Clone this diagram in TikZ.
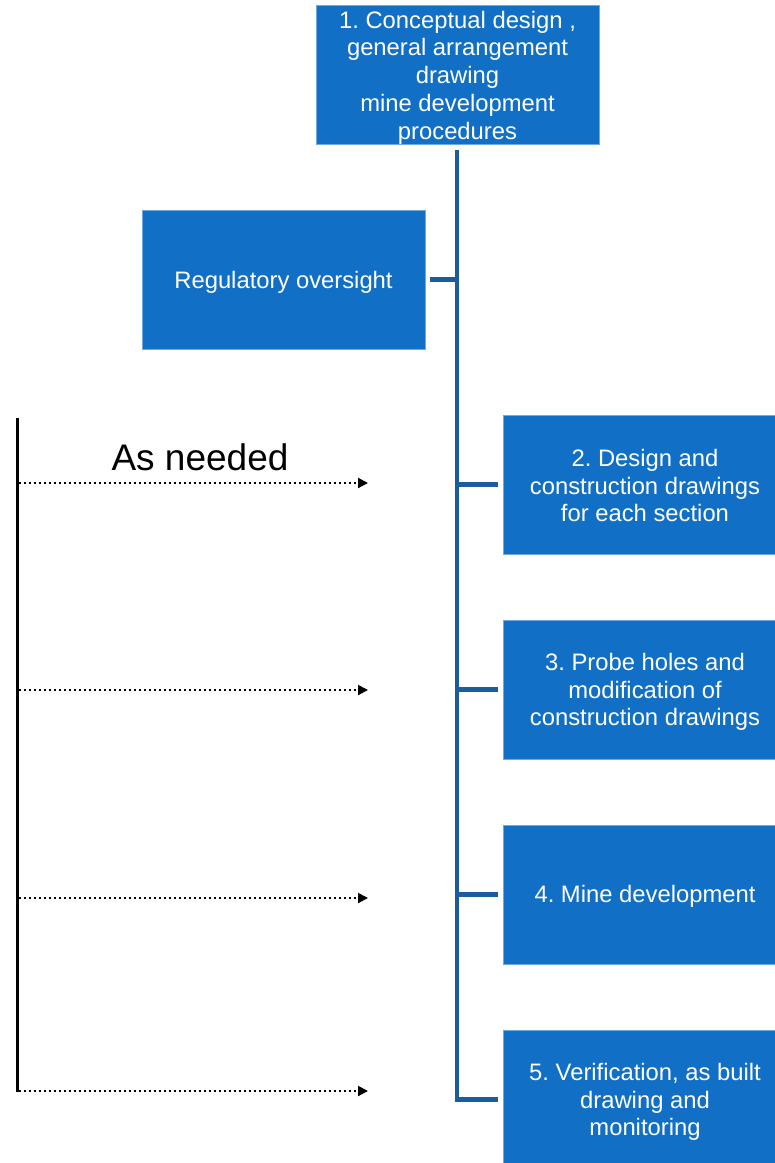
\documentclass[tikz,border=0pt]{standalone}
\usepackage{fontspec}
\setmainfont{Liberation Sans}
\usetikzlibrary{arrows.meta}
\frenchspacing
\definecolor{boxblue}{HTML}{1170C6}
\definecolor{trunkblue}{HTML}{1A5C9C}
\tikzset{
  stepbox/.style={rectangle, fill=boxblue, draw=boxblue!60!white, line width=0.8pt,
    minimum width=283pt, minimum height=139pt, inner sep=0pt},
  boxtext/.style={inner sep=0pt, text=white, align=center,
    font=\fontsize{23.8}{27.7}\selectfont},
  trunk/.style={draw=trunkblue, line width=4.5pt},
  feed/.style={draw=black, line width=2pt, dash pattern=on 2pt off 3pt,
    -{Triangle[length=10pt,width=10pt]}},
}
\begin{document}
\begin{tikzpicture}[x=1pt,y=-1pt]
  \useasboundingbox (0,0) rectangle (775,1163);
  \clip (0,0) rectangle (775,1163);
  % process boxes
  \node[stepbox] (b1) at (457.5,75) {};
  \node[stepbox] (reg) at (283.5,279.5) {};
  \node[stepbox] (b2) at (645,484.5) {};
  \node[stepbox] (b3) at (645,689.5) {};
  \node[stepbox] (b4) at (645,894.5) {};
  \node[stepbox] (b5) at (645,1099.5) {};
  % box captions
  \node[boxtext] (t1) at ([yshift=-2.5pt]b1.center) {1. Conceptual design ,\\general arrangement\\drawing\\mine development\\procedures};
  \node[boxtext] (treg) at ([yshift=-3pt]reg.center) {Regulatory oversight};
  \node[boxtext] (t2) at ([yshift=-1pt]b2.center) {2. Design and\\construction drawings\\for each section};
  \node[boxtext] (t3) at ([yshift=-2.5pt]b3.center) {3. Probe holes and\\modification of\\construction drawings};
  \node[boxtext] (t4) at ([yshift=-2pt]b4.center) {4. Mine development};
  \node[boxtext] (t5) at ([yshift=-2.5pt]b5.center) {5. Verification, as built\\drawing and\\monitoring};
  % trunk and branches
  \coordinate (tk) at (457,150);
  \draw[trunk] (tk) |- ([xshift=-5pt]b5.west);
  \draw[trunk] ([xshift=5pt]reg.east) -- (reg.east -| tk);
  \foreach \n in {b2,b3,b4}
    \draw[trunk] (\n.west -| tk) -- ([xshift=-5pt]\n.west);
  % feedback line with dotted arrows
  \coordinate (la) at (17,418);
  \coordinate (lb) at (17,1092);
  \draw[black, line width=3pt] (la) -- (lb);
  \foreach \y/\nm in {483/f1,690/f2,898/f3,1091/f4}{
    \coordinate (s\nm) at (18.5,\y);
    \coordinate (e\nm) at (368,\y);
    \draw[feed] (s\nm) -- (e\nm);
  }
  \node[font=\fontsize{37}{42}\selectfont, text=black] (asn) at (200,457) {As needed};
\end{tikzpicture}
\end{document}
